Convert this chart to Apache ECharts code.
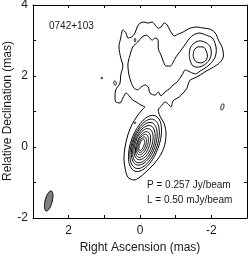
<!DOCTYPE html>
<html><head><meta charset="utf-8">
<script src="https://cdn.jsdelivr.net/npm/echarts@6/dist/echarts.min.js"></script>
<style>html,body{margin:0;padding:0;background:#fff}#c{width:249px;height:256px}</style>
</head><body><div id="c"></div>
<script>
// Tick labels and texts
const xLabelValues = [2, 0, -2];
const yLabelValues = [4, 2, 0, -2];
const xTitle = 'Right Ascension (mas)';
const yTitle = 'Relative Declination (mas)';
const sourceName = '0742+103';
const peakText = 'P = 0.257 Jy/beam';
const lowestText = 'L = 0.50 mJy/beam';

// Lowest contour (RA mas, Dec mas)
const contour1 = [
  [-0.14,1.13],[-0.03,1.18],[0.11,1.27],[0.20,1.32],[0.28,1.41],[0.39,1.52],[0.48,1.38],[0.56,1.24],
  [0.68,1.27],[0.70,1.41],[0.68,1.61],[0.56,1.80],[0.54,2.03],[0.48,2.28],[0.54,2.51],[0.59,2.82],
  [0.54,3.07],[0.48,3.30],[0.39,3.21],[0.34,3.07],[0.23,3.10],[0.14,3.21],[0.08,3.38],[0.00,3.49],
  [-0.11,3.52],[-0.23,3.49],[-0.34,3.52],[-0.42,3.44],[-0.51,3.35],[-0.59,3.38],[-0.68,3.49],[-0.76,3.44],
  [-0.85,3.27],[-0.96,3.13],[-1.07,3.18],[-1.21,3.24],[-1.41,3.35],[-1.61,3.38],[-1.77,3.35],[-1.97,3.32],
  [-2.11,3.21],[-2.20,3.01],[-2.31,2.79],[-2.34,2.56],[-2.23,2.37],[-2.06,2.25],[-1.86,2.14],[-1.69,2.03],
  [-1.52,1.94],[-1.41,1.89],[-1.35,1.77],[-1.32,1.66],[-1.21,1.52],[-1.10,1.41],[-0.93,1.30],[-0.87,1.13],
  [-0.79,1.21],[-0.70,1.27],[-0.62,1.18],[-0.51,1.04],[-0.56,0.87],[-0.68,0.65],[-0.73,0.37],[-0.70,0.08],
  [-0.59,-0.20],[-0.39,-0.48],[-0.17,-0.70],[0.03,-0.87],[0.17,-0.93],[0.34,-0.85],[0.42,-0.59],[0.45,-0.31],
  [0.42,0.00],[0.34,0.34],[0.23,0.62],[0.08,0.87],[-0.03,1.01],[-0.14,1.13]
];
// Second contour (jet island)
const contour2 = [
  [0.00,1.66],[-0.14,1.75],[-0.23,1.69],[-0.28,1.52],[-0.42,1.46],[-0.51,1.55],[-0.59,1.44],[-0.70,1.55],
  [-0.85,1.66],[-0.93,1.75],[-1.04,1.83],[-1.18,2.03],[-1.27,2.17],[-1.41,2.11],[-1.55,2.06],[-1.69,2.14],
  [-1.86,2.25],[-2.00,2.37],[-2.11,2.54],[-2.14,2.73],[-2.11,2.90],[-2.03,3.07],[-1.86,3.15],[-1.66,3.21],
  [-1.49,3.15],[-1.35,3.01],[-1.24,2.85],[-1.13,2.70],[-1.01,2.54],[-0.93,2.39],[-0.85,2.28],[-0.73,2.28],
  [-0.65,2.42],[-0.59,2.59],[-0.51,2.79],[-0.51,3.01],[-0.42,3.07],[-0.34,3.01],[-0.25,3.10],[-0.17,3.15],
  [-0.06,3.10],[0.06,2.96],[0.20,2.82],[0.28,2.59],[0.34,2.31],[0.31,2.03],[0.25,1.83],[0.17,1.66],
  [0.06,1.61],[0.00,1.66]
];
// Third and fourth contours (knot)
const contour3 = [
  [-1.38,2.59],[-1.41,2.79],[-1.52,2.93],[-1.69,2.99],[-1.86,2.93],[-1.97,2.82],[-2.00,2.65],[-1.94,2.45],
  [-1.80,2.31],[-1.63,2.25],[-1.49,2.28],[-1.41,2.42],[-1.38,2.59]
];
const contour4 = [
  [-1.49,2.56],[-1.52,2.73],[-1.63,2.82],[-1.77,2.82],[-1.86,2.70],[-1.89,2.56],[-1.83,2.42],[-1.69,2.37],
  [-1.55,2.42],[-1.49,2.56]
];

// Core contours as ellipses (mas, deg)
const coreRA   = [-0.14, -0.13, -0.12, -0.11, -0.10, -0.085, -0.07, -0.06, -0.05];
const coreDec  = [0.10, 0.09, 0.09, 0.08, 0.08, 0.07, 0.07, 0.065, 0.06];
const coreMaj  = [0.83, 0.73, 0.63, 0.55, 0.46, 0.38, 0.30, 0.23, 0.17];
const coreMin  = [0.39, 0.35, 0.31, 0.27, 0.23, 0.18, 0.14, 0.10, 0.06];
const corePA   = [-20, -20, -20, -20, -20, -20, -20, -20, -20];

// Small isolated contours
const islandRA  = [0.14, 0.70, 1.07, -2.31, 0.14];
const islandDec = [3.01, 1.80, 1.94, 1.13, 0.68];
const islandMaj = [0.05, 0.06, 0.025, 0.09, 0.025];
const islandMin = [0.02, 0.035, 0.02, 0.04, 0.02];
const islandPA  = [0, 10, 0, -15, 0];

// Restoring beam
const beamRA = [2.56], beamDec = [-1.52], beamMaj = [0.29], beamMin = [0.10], beamPA = [-14];

function zipEll(ra, dec, a, b, pa){ return ra.map((r,i)=>[r, dec[i], a[i], b[i], pa[i]]); }

function ellipseRenderer(fill){
  return function(params, api){
    const ra = api.value(0), dec = api.value(1), a = api.value(2), b = api.value(3), pa = api.value(4)*Math.PI/180;
    const pts = [];
    const N = 72;
    for (let k = 0; k < N; k++){
      const t = k/N*2*Math.PI;
      const dra = a*Math.cos(t)*Math.sin(pa) + b*Math.sin(t)*Math.cos(pa);
      const ddec = a*Math.cos(t)*Math.cos(pa) - b*Math.sin(t)*Math.sin(pa);
      pts.push(api.coord([ra+dra, dec+ddec]));
    }
    return {type:'polygon', shape:{points:pts}, style:{fill: fill || 'none', stroke:'#000', lineWidth:1}};
  };
}

const FONT = '"Liberation Sans", Arial, Helvetica, sans-serif';
const TXT = '#1a1a1a';

function lineSeries(data){
  return {type:'line', data:data, xAxisIndex:0, yAxisIndex:0, showSymbol:false, symbol:'none',
    smooth:0.3, lineStyle:{color:'#000', width:1}, silent:true, z:3};
}

const chart = echarts.init(document.getElementById('c'), null, {renderer:'canvas'});
chart.setOption({
  animation:false,
  backgroundColor:'#fff',
  grid:{left:33, right:2, top:5, bottom:38, containLabel:false, outerBoundsMode:'none'},
  xAxis:[
    {type:'value', min:-3, max:3, interval:1, inverse:true, position:'bottom',
     name:xTitle, nameLocation:'middle', nameGap:24,
     nameTextStyle:{fontFamily:FONT, fontSize:12, color:TXT},
     axisLine:{show:true, onZero:false, lineStyle:{color:'#000', width:1}},
     axisTick:{show:true, inside:true, length:3, lineStyle:{color:'#000'}},
     axisLabel:{show:true, margin:7, fontFamily:FONT, fontSize:12, color:TXT, showMinLabel:true, showMaxLabel:true,
       formatter:v => xLabelValues.includes(v) ? String(v) : ''},
     splitLine:{show:false}},
    {type:'value', min:-3, max:3, interval:1, inverse:true, position:'top',
     axisLine:{show:true, onZero:false, lineStyle:{color:'#000', width:1}},
     axisTick:{show:true, inside:true, length:3, lineStyle:{color:'#000'}},
     axisLabel:{show:false}, splitLine:{show:false}}
  ],
  yAxis:[
    {type:'value', min:-2, max:4, interval:1, position:'left',
     axisLine:{show:true, onZero:false, lineStyle:{color:'#000', width:1}},
     axisTick:{show:true, inside:true, length:3, lineStyle:{color:'#000'}},
     axisLabel:{show:true, margin:5, fontFamily:FONT, fontSize:12, color:TXT, showMinLabel:true, showMaxLabel:true,
       formatter:v => yLabelValues.includes(v) ? String(v) : ''},
     splitLine:{show:false}},
    {type:'value', min:-2, max:4, interval:1, position:'right',
     axisLine:{show:true, onZero:false, lineStyle:{color:'#000', width:1}},
     axisTick:{show:true, inside:true, length:3, lineStyle:{color:'#000'}},
     axisLabel:{show:false}, splitLine:{show:false}}
  ],
  series:[
    lineSeries(contour1),
    lineSeries(contour2),
    lineSeries(contour3),
    lineSeries(contour4),
    {type:'custom', renderItem:ellipseRenderer(null), data:zipEll(coreRA, coreDec, coreMaj, coreMin, corePA),
     encode:{x:0, y:1}, xAxisIndex:0, yAxisIndex:0, silent:true, z:3},
    {type:'custom', renderItem:ellipseRenderer(null), data:zipEll(islandRA, islandDec, islandMaj, islandMin, islandPA),
     encode:{x:0, y:1}, xAxisIndex:0, yAxisIndex:0, silent:true, z:3},
    {type:'custom', renderItem:ellipseRenderer('#7f7f7f'), data:zipEll(beamRA, beamDec, beamMaj, beamMin, beamPA),
     encode:{x:0, y:1}, xAxisIndex:0, yAxisIndex:0, silent:true, z:3}
  ],
  graphic:[
    {type:'text', x:8, y:111, rotation:Math.PI/2,
     style:{text:yTitle, fontFamily:FONT, fontSize:12, fill:TXT, align:'center', verticalAlign:'middle'}},
    {type:'text', left:49, top:21, style:{text:sourceName, fontFamily:FONT, fontSize:10, fill:TXT}},
    {type:'text', left:147, top:180, style:{text:peakText, fontFamily:FONT, fontSize:10, fill:TXT}},
    {type:'text', left:147, top:195, style:{text:lowestText, fontFamily:FONT, fontSize:10, fill:TXT}}
  ]
});
</script>
</body></html>
